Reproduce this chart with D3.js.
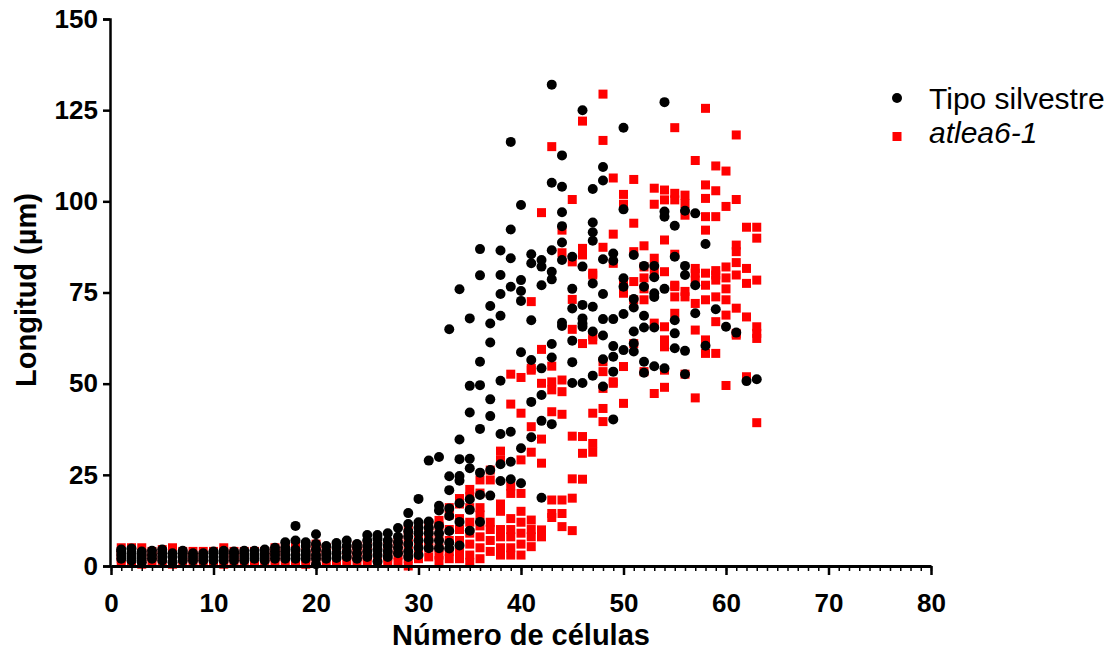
<!DOCTYPE html>
<html>
<head>
<meta charset="utf-8">
<script src="https://cdn.jsdelivr.net/npm/d3@7"></script>
<style>
  body { margin: 0; background: #fff; }
  text { font-family: Arial, "Liberation Sans", sans-serif; }
</style>
</head>
<body>
<div id="chart"></div>
<script>
// number of cells (x) for each column of measurements
const cellNumbers = [1,2,3,4,5,6,7,8,9,10,11,12,13,14,15,16,17,18,19,20,21,22,23,24,25,26,27,28,29,30,
  31,32,33,34,35,36,37,38,39,40,41,42,43,44,45,46,47,48,49,50,51,52,53,54,55,56,57,58,59,60,61,62,63];

// wild type lengths (µm), one list per cell number
const wildTypeLengths = [
  [2,3,4,4.5],[1.5,2.5,3.5,4.8],[1,2,3,4],[2,3,4.2],[1.5,2.5,3.5,4.5],
  [1,2.5,3.5],[1.5,2.5,3.5,4.2],[1.5,2.5,3.5],[1.5,2.5,3.5],[1.5,2.5,3.5,4],
  [1.5,2.5,3.5,4.2],[1.5,2.5,3.5,4],[1.5,2.5,3.5,4.2],[2,3,4.2],[1.5,2.5,3.5,4.5],
  [2,3,4,5],[2,3,4,5,6.5],[2,3,4.5,7,11],[2,3,4,5.5,6.5],[0.5,2,3,4.5,6,8.7],
  [2,3,4,5.5],[2.2,3.5,5,6.3],[2.5,4,5.5,7],[2,3.5,5,6],[2.5,4,5.5,7,8.5],
  [1.2,3,4.5,6,7.5,8.5],[2.5,4,5.5,7,9],[3.5,5,6.5,8,10.4],[2.5,4,6,8,9.5,11.5,14.5],
  [3,5,7,9,10.5,12,18.4],[4.9,7,9,10.5,12.2,28.9],[4.9,7,9,11,15.2,16.5,29.9],
  [4.8,6.4,9.6,13.7,15.8,20.8,24.6,64.9],[5.6,12.1,17.2,23.4,24.7,29.3,34.7,75.9],
  [9.7,15.4,18.3,26.8,29.4,42.1,49.4,67.9],[12.1,19.5,25.6,37.6,49.6,56,79.7,86.9],
  [19.3,26.3,41.1,45.7,61.3,66.5,71.3],[23.3,27.9,36.2,50.8,68.6,74.6,79.8,86.5],
  [23.8,28.6,36.8,76.6,84.4,92.3,116.3],[22.7,32.3,58.6,72.7,75.4,78.4,99],
  [35.3,45,56.5,67.4,83,85.5],[18.7,39.8,46.9,54.2,77,82.1,83.9],
  [38.9,57.2,60.9,78.6,80.7,86.6,105.1,132],[65.8,66.7,83.9,88.7,93.2,97,104,112.6],
  [50.2,55.9,61.8,70.6,76,84.8],[50.2,65.6,66.5,67.9,71.6,82.1,125],
  [52.2,64.3,71.1,77.5,89.2,91.5,94.2,103.4],[49.2,56.7,63.2,67.7,74.6,84.1,105.7,109.4],
  [40.2,53.3,57.4,60.3,67.7,83.7,85.7],[59.2,69.1,76.6,78.9,97.8,120.2],
  [58.8,61,64.3,70.9,73.2,85.3],[53,56,65.4,68.6,76.6,82.3],
  [54.8,65.4,73.8,74.8,79.2,82.3],[54.2,76,95.8,97.2,127.2],
  [59.7,63.8,67.4,84.8,93.3],[52.6,59,79.8,82.3,97.4],
  [69.3,77,96.7],[60.4,88.3],[70.4],[65.6],[64],[50.7],[51.2]
];

// atlea6-1 lengths (µm), one list per cell number
const mutantLengths = [
  [1,2,3,4,5],[1,2.5,4,5],[0.5,2,3.5,5],[1,2.5,4],[1.5,3,4.5],
  [0.5,2,3.5,5],[1,2.5,4],[1,2.5,4],[1,2.5,4],[1,2.5,4],
  [0.5,2,3.5,5],[1,2.5,4],[1,2.5,4],[1,2.5,4],[1,2.5,4],
  [1,2.5,4,5],[1,2.5,4,5],[1,2.5,4,5.5],[0.5,2,3.5,5],[1,3,5,6],
  [1,2.5,4,5],[1.5,3,4.5],[1.5,3,4.5],[1,2.5,4,5.5],[1,2.5,4,5.5],
  [1,2.5,4,5.5],[1,2.5,4,6],[1,3,5,7],[0,2,4,6,8,10],
  [2,4,6,8,10],[2.5,5,7,9,11],[1.5,3,5,8,11,12.5],
  [2,4,7,10,14,16],[2,4,7,10,13,17,18.5],
  [1,3,6,9,12,16,19,21],[2,5,8,11,14,16,20,23.6],
  [4,7,10,12,23.6,26.3],[3,5,8,10,15,17,29.1,31.5],
  [3,5,8,10,13,19.9,21.9,44.4,52.6],[3,6,9,12,15,19.9,29.1,41.9,51.7],
  [5.3,8,10,12.6,31.2,38.2,53.7,54.2,72.5],[8,9.9,28.2,34.8,50.1,59.4,96.9],
  [13.3,14.4,18.1,42.3,48.3,50.5,54.8,115],[10.8,14.4,18.1,41.6,47.8,51,85.9,92.1],
  [9.7,18.6,23.9,35.6,64.9,73.1,83.4,100.5],[23.8,30.9,35.5,61,85.3,87.1,122],
  [31.2,33.6,41.9,62,63,79.8,80.3],[39.6,43.2,48.7,53.3,56,87.4,116.7,129.4],
  [50.1,50.5,83,91,106.4],[44.6,54.7,74.8,78,99.2,101.9],
  [61,73,78,86.2,94,106],[53.3,73,76,79,82,87.8],
  [47.3,66.6,80.7,84.4,99.2,103.6],[49,53.7,60.1,62,65.6,80.7,89.4,100.4,103.1],
  [69.3,73.8,76.6,77,85.5,100.4,102.2,120.2],[52.6,73.8,75.3,96.2,99.4,101.7],
  [46.1,64.7,72,78.4,80.3,81.6,111.2],[58.3,62,73,77,80.3,92.1,95.8,100.8,104.5,125.5],
  [58.3,67,73.8,78.4,79.8,81,95.8,102.9,109.7],[49.5,68.8,73,76,79,82,98.6,108.3],
  [63.3,63.8,70.7,79.8,83.2,86.2,88,100.5,118.2],[51.9,68.3,77.5,81.6,92.9],
  [39.3,62.4,63.8,65.6,78.4,89.9,92.9]
];

const xTicks = [0,10,20,30,40,50,60,70,80];
const yTicks = [0,25,50,75,100,125,150];
const seriesNames = ["Tipo silvestre", "atlea6-1"];

const width = 1111, height = 652;

let svg = d3.select("#chart").append("svg")
  .attr("width", width)
  .attr("height", height);

let x = d3.scaleLinear().domain([0, 80]).range([111, 931]);
let y = d3.scaleLinear().domain([0, 150]).range([566, 19]);

// flatten columns into points
function toPoints(lists) {
  let pts = [];
  lists.forEach(function(vals, i) {
    vals.forEach(function(v) { pts.push({cells: cellNumbers[i], len: v}); });
  });
  return pts;
}
let wtPoints = toPoints(wildTypeLengths);
let mutPoints = toPoints(mutantLengths);

// mutant squares first, wild type dots drawn on top
let sq = 9;
svg.append("g").selectAll("rect")
  .data(mutPoints)
  .enter().append("rect")
  .attr("x", d => x(d.cells) - sq / 2)
  .attr("y", d => y(d.len) - sq / 2)
  .attr("width", sq)
  .attr("height", sq)
  .attr("fill", "#ff0000");

svg.append("g").selectAll("circle")
  .data(wtPoints)
  .enter().append("circle")
  .attr("cx", d => x(d.cells))
  .attr("cy", d => y(d.len))
  .attr("r", 5)
  .attr("fill", "#000");

// y axis
let yAxis = svg.append("g")
  .attr("transform", "translate(110,0)")
  .call(d3.axisLeft(y).tickValues(yTicks).tickSize(7).tickPadding(5));
yAxis.select(".domain").attr("stroke-width", 2.5);
yAxis.selectAll(".tick line").attr("stroke-width", 2.5);
yAxis.selectAll("text").attr("font-size", 26).attr("font-weight", "bold").attr("fill", "#000");

// x axis with minor ticks every cell
let xAxis = svg.append("g")
  .attr("transform", "translate(0,566)");
xAxis.append("g")
  .call(d3.axisBottom(x).tickValues(d3.range(0, 81, 1)).tickSize(5).tickFormat(""))
  .call(g => g.select(".domain").remove())
  .selectAll("line").attr("stroke-width", 1.5);
let xMajor = xAxis.append("g")
  .call(d3.axisBottom(x).tickValues(xTicks).tickSize(9).tickPadding(19).tickSizeOuter(0));
xMajor.select(".domain").attr("stroke-width", 3);
xMajor.selectAll(".tick line").attr("stroke-width", 2.5);
xMajor.selectAll("text").attr("font-size", 26).attr("font-weight", "bold").attr("fill", "#000");

// axis titles
svg.append("text")
  .attr("transform", "translate(36,290) rotate(-90)")
  .attr("text-anchor", "middle")
  .attr("font-size", 29)
  .attr("font-weight", "bold")
  .text("Longitud (µm)");

svg.append("text")
  .attr("x", 521)
  .attr("y", 645)
  .attr("text-anchor", "middle")
  .attr("font-size", 29)
  .attr("font-weight", "bold")
  .text("Número de células");

// legend
let legend = svg.append("g").attr("transform", "translate(897,98)");
legend.append("circle").attr("cx", 0).attr("cy", 0).attr("r", 5).attr("fill", "#000");
legend.append("rect").attr("x", -4.5).attr("y", 34).attr("width", 9).attr("height", 9).attr("fill", "#ff0000");
legend.append("text").attr("x", 32).attr("y", 11).attr("font-size", 30).text(seriesNames[0]);
legend.append("text").attr("x", 32).attr("y", 45).attr("font-size", 30).attr("font-style", "italic").text(seriesNames[1]);
</script>
</body>
</html>
